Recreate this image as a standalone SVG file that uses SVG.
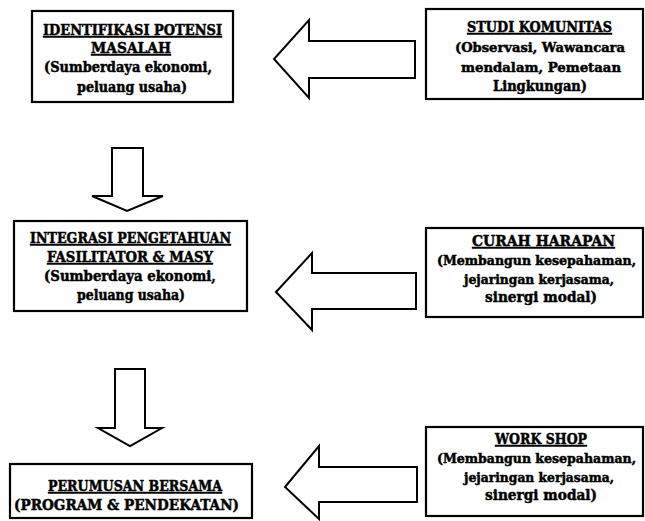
<svg xmlns="http://www.w3.org/2000/svg" width="645" height="521" viewBox="0 0 645 521">
<style>
.box{fill:#fff;stroke:#000;stroke-width:2.2}
.arr{fill:#fff;stroke:#000;stroke-width:2;stroke-linejoin:miter}
text{font-family:"DejaVu Serif","Liberation Serif",serif;font-weight:bold;font-size:15px;fill:#000;stroke:#000;stroke-width:0.5}
.s{font-size:13.5px}
.t{font-size:12.5px}
.u{text-decoration:underline}
</style>
<rect width="645" height="521" fill="#fff"/>
<g id="connectors">
<polygon class="arr" points="415,41 309,41 309,20 274,59 309,98 309,78 415,78"/>
<polygon class="arr" points="416,273 312,273 312,253 276,292 312,330 312,309 416,309"/>
<polygon class="arr" points="417,467 319,467 319,446 285,487 319,519 319,502 417,502"/>
<polygon class="arr" points="112,148 143,148 143,196 163,196 127,211 92,196 112,196"/>
<polygon class="arr" points="115,369 145,369 145,428 162,428 130,446 98,428 115,428"/>
</g>
<g id="n1">
<rect class="box" x="32" y="11" width="201" height="91"/>
<text class="u" x="43" y="35" textLength="179" lengthAdjust="spacingAndGlyphs">IDENTIFIKASI POTENSI</text>
<text class="u" x="91" y="53" textLength="80" lengthAdjust="spacingAndGlyphs">MASALAH</text>
<text x="44" y="72" textLength="168" lengthAdjust="spacingAndGlyphs">(Sumberdaya ekonomi,</text>
<text x="77" y="92" textLength="110" lengthAdjust="spacingAndGlyphs">peluang usaha)</text>
</g>
<g id="n2">
<rect class="box" x="426" y="9" width="217" height="90"/>
<text class="u" x="467" y="32" textLength="145" lengthAdjust="spacingAndGlyphs">STUDI KOMUNITAS</text>
<text class="s" x="455" y="52" textLength="170" lengthAdjust="spacingAndGlyphs">(Observasi, Wawancara</text>
<text class="s" x="461" y="72" textLength="160" lengthAdjust="spacingAndGlyphs">mendalam, Pemetaan</text>
<text x="493" y="91" textLength="94" lengthAdjust="spacingAndGlyphs">Lingkungan)</text>
</g>
<g id="n3">
<rect class="box" x="14" y="221" width="233" height="90"/>
<text class="u" x="30" y="243" textLength="201" lengthAdjust="spacingAndGlyphs">INTEGRASI PENGETAHUAN</text>
<text class="u" x="47" y="262" textLength="166" lengthAdjust="spacingAndGlyphs">FASILITATOR &amp; MASY</text>
<text x="44" y="281" textLength="172" lengthAdjust="spacingAndGlyphs">(Sumberdaya ekonomi,</text>
<text x="77" y="300" textLength="108" lengthAdjust="spacingAndGlyphs">peluang usaha)</text>
</g>
<g id="n4">
<rect class="box" x="426" y="228" width="217" height="89"/>
<text class="u" x="472" y="246" textLength="143" lengthAdjust="spacingAndGlyphs">CURAH HARAPAN</text>
<text class="t" x="437" y="265" textLength="199" lengthAdjust="spacingAndGlyphs">(Membangun kesepahaman,</text>
<text class="s" x="464" y="284" textLength="150" lengthAdjust="spacingAndGlyphs">jejaringan kerjasama,</text>
<text x="485" y="302" textLength="112" lengthAdjust="spacingAndGlyphs">sinergi modal)</text>
</g>
<g id="n5">
<rect class="box" x="10" y="464" width="242" height="54"/>
<text class="u" x="48" y="491" textLength="174" lengthAdjust="spacingAndGlyphs">PERUMUSAN BERSAMA</text>
<text x="14" y="510" textLength="225" lengthAdjust="spacingAndGlyphs">(PROGRAM &amp; PENDEKATAN)</text>
</g>
<g id="n6">
<rect class="box" x="426" y="427" width="217" height="89"/>
<text class="u" x="495" y="444" textLength="92" lengthAdjust="spacingAndGlyphs">WORK SHOP</text>
<text class="t" x="437" y="463" textLength="199" lengthAdjust="spacingAndGlyphs">(Membangun kesepahaman,</text>
<text class="s" x="464" y="482" textLength="150" lengthAdjust="spacingAndGlyphs">jejaringan kerjasama,</text>
<text x="485" y="500" textLength="112" lengthAdjust="spacingAndGlyphs">sinergi modal)</text>
</g>
</svg>
